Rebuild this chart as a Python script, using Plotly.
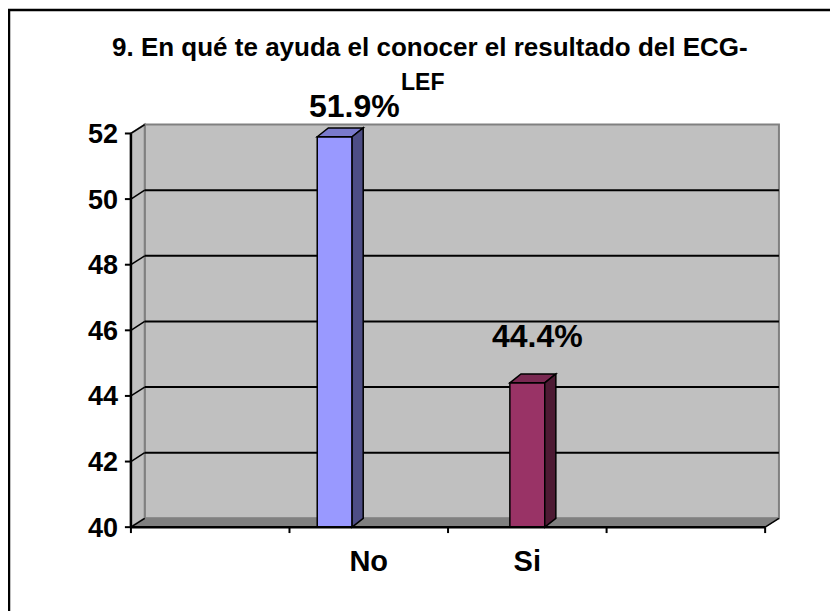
import plotly.graph_objects as go

categories = ["No", "Si"]
values = [51.9, 44.4]
labels = ["51.9%", "44.4%"]
y_ticks = [40, 42, 44, 46, 48, 50, 52]
title_line1 = "9. En qué te ayuda el conocer el resultado del ECG-"
title_line2 = "LEF"

# look of the excel 3d chart
front_colors = ["#9999FF", "#993366"]
top_colors = ["#7A7ACC", "#7A2952"]
side_colors = ["#4D4D85", "#4D1A33"]
bar_shift = [-0.215, 0.0]   # excel put the "No" column left of its slot
label_xshift = [5, -4]
label_yshift = [2, 18]
floor, ceil = 40, 52
n_slots = 4
wall_dx, wall_dy = 0.087, 0.27
bar_dx, bar_dy = 0.07, 0.27
bar_w = 0.22
FONT = "Liberation Sans, Arial, sans-serif"

xs = [i + 1.5 + s for i, s in enumerate(bar_shift)]

fig = go.Figure()
fig.add_trace(go.Bar(
    x=xs, y=[v - floor for v in values], base=floor, width=bar_w,
    marker=dict(color=front_colors, line=dict(color="black", width=1.5)),
    hoverinfo="skip", showlegend=False,
))

shapes = []
# back wall, floor and side wall
shapes.append(dict(type="rect", xref="x", yref="y", layer="below",
                   x0=wall_dx, x1=n_slots + wall_dx, y0=floor + wall_dy, y1=ceil + wall_dy,
                   fillcolor="#C0C0C0", line=dict(color="#808080", width=2)))
shapes.append(dict(type="path", xref="x", yref="y", layer="below",
                   path=f"M 0 {floor} L {n_slots} {floor} L {n_slots + wall_dx} {floor + wall_dy} "
                        f"L {wall_dx} {floor + wall_dy} Z",
                   fillcolor="#808080", line=dict(color="#808080", width=1)))
shapes.append(dict(type="path", xref="x", yref="y", layer="below",
                   path=f"M 0 {floor} L 0 {ceil} L {wall_dx} {ceil + wall_dy} "
                        f"L {wall_dx} {floor + wall_dy} Z",
                   fillcolor="#C0C0C0", line=dict(color="#808080", width=2)))
# gridlines on the back wall + slanted ticks on the side wall
for v in y_ticks[1:-1]:
    shapes.append(dict(type="line", xref="x", yref="y", layer="below",
                       x0=wall_dx, x1=n_slots + wall_dx, y0=v + wall_dy, y1=v + wall_dy,
                       line=dict(color="black", width=2)))
for v in y_ticks:
    shapes.append(dict(type="line", xref="x", yref="y", layer="below",
                       x0=0, x1=wall_dx, y0=v, y1=v + wall_dy,
                       line=dict(color="black", width=1.5)))
    shapes.append(dict(type="line", xref="x", yref="y",
                       x0=-0.038, x1=0, y0=v, y1=v,
                       line=dict(color="black", width=2)))
# front axes
shapes.append(dict(type="line", xref="x", yref="y", x0=0, x1=0, y0=floor, y1=ceil,
                   line=dict(color="black", width=2.5)))
shapes.append(dict(type="line", xref="x", yref="y", x0=0, x1=n_slots, y0=floor, y1=floor,
                   line=dict(color="black", width=2.5)))
shapes.append(dict(type="line", xref="x", yref="y", x0=n_slots, x1=n_slots + wall_dx,
                   y0=floor, y1=floor + wall_dy, line=dict(color="black", width=1.5)))
for k in range(n_slots + 1):
    shapes.append(dict(type="line", xref="x", yref="y", x0=k, x1=k, y0=floor, y1=floor - 0.18,
                       line=dict(color="black", width=2)))

# 3d faces of the columns
for x, v, tc, sc in zip(xs, values, top_colors, side_colors):
    x0, x1 = x - bar_w / 2, x + bar_w / 2
    shapes.append(dict(type="path", xref="x", yref="y",
                       path=f"M {x0} {v} L {x0 + bar_dx} {v + bar_dy} L {x1 + bar_dx} {v + bar_dy} L {x1} {v} Z",
                       fillcolor=tc, line=dict(color="black", width=1.5)))
    shapes.append(dict(type="path", xref="x", yref="y",
                       path=f"M {x1} {floor} L {x1} {v} L {x1 + bar_dx} {v + bar_dy} "
                            f"L {x1 + bar_dx} {floor + bar_dy} Z",
                       fillcolor=sc, line=dict(color="black", width=1.5)))

annotations = []
for x, v, t, xsh, ysh in zip(xs, values, labels, label_xshift, label_yshift):
    annotations.append(dict(x=x + bar_dx * 1.3, y=v + bar_dy, xref="x", yref="y", text=t,
                            showarrow=False, yanchor="bottom", xshift=xsh, yshift=ysh,
                            font=dict(family=FONT, size=32, color="black", weight="bold")))
annotations.append(dict(x=0.5, y=1, xref="paper", yref="paper", text=title_line1,
                        showarrow=False, yanchor="middle", yshift=75, xshift=-22,
                        font=dict(family=FONT, size=26, color="black", weight="bold")))
annotations.append(dict(x=0.5, y=1, xref="paper", yref="paper", text=title_line2,
                        showarrow=False, yanchor="middle", yshift=40, xshift=-30,
                        font=dict(family=FONT, size=23, color="black", weight="bold")))

# the page adds an 8px body margin, so the figure is placed 8px right/down
ML, MR, MT, MB = 115, 65, 114, 82
W, H = 838, 611
pw, ph = W - ML - MR, H - MT - MB
# outer chart border (excel chart area, cut off at right and bottom)
shapes.append(dict(type="rect", xref="paper", yref="paper",
                   x0=(1 - ML) / pw, x1=(W + 20 - ML) / pw,
                   y0=-(H + 20 - MT - ph) / ph, y1=1 + (MT - 2) / ph,
                   line=dict(color="black", width=2.5)))

fig.update_layout(
    width=W, height=H,
    margin=dict(l=ML, r=MR, t=MT, b=MB, autoexpand=False),
    paper_bgcolor="white", plot_bgcolor="white",
    shapes=shapes, annotations=annotations,
    xaxis=dict(range=[-0.05, n_slots + 0.1], tickvals=[1.5, 2.5], ticktext=categories,
               showgrid=False, zeroline=False, showline=False, ticks="",
               ticklabelstandoff=4,
               tickfont=dict(family=FONT, size=29, color="black", weight="bold")),
    yaxis=dict(range=[39.7, 52.35], tickvals=y_ticks, showgrid=False, zeroline=False,
               showline=False, ticks="", ticklabelstandoff=4,
               tickfont=dict(family=FONT, size=27, color="black", weight="bold")),
)

fig.write_html("out.html")
